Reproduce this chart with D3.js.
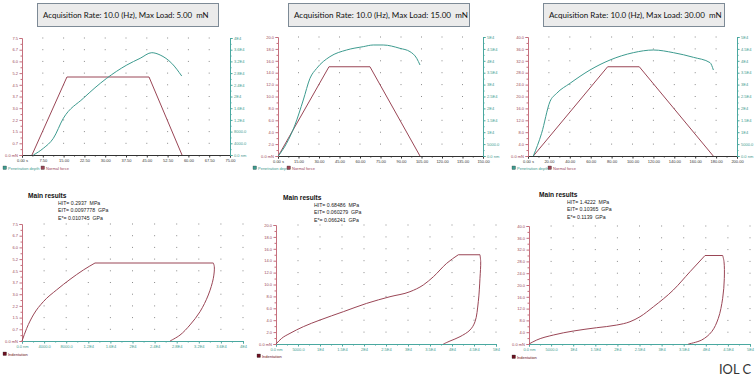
<!DOCTYPE html>
<html>
<head>
<meta charset="utf-8">
<title>IOL C indentation</title>
<style>
  body { margin: 0; background: #fff; }
  svg { display: block; font-family: "Liberation Sans", Arial, sans-serif; }
</style>
</head>
<body>
<svg width="755" height="376"></svg>
<script src="https://d3js.org/d3.v7.min.js"></script>
<script>
// ---- top row: normal force and penetration depth vs time ----
var maxLoads = ["5.00", "15.00", "30.00"];

var forceT1 = [3.6, 16.2, 45.8, 57.7];
var forceF1 = [0, 5.0, 5.0, 0];
var depthT1 = [4.1, 7.7, 11.3, 14.9, 22.1, 30.5, 37.8, 42.6, 46.8, 49.8, 54.0, 57.6];
var depthD1 = [0, 2290, 5700, 12540, 19380, 26200, 30770, 33060, 34980, 34190, 31340, 27000];

var forceT2 = [0.2, 37.3, 67.3, 103.9];
var forceF2 = [0, 15, 15, 0];
var depthT2 = [0.2, 6.3, 12.4, 18.5, 23.4, 28.3, 38, 50.2, 62.4, 69.7, 77, 89.2, 96.6, 101.5, 103.9];
var depthD2 = [0, 5320, 13030, 23530, 32630, 36830, 41740, 44540, 45940, 46640, 46640, 45240, 43840, 41040, 38240];

var forceT3 = [5.1, 76.2, 106.5, 177.3];
var forceF3 = [0, 30, 30, 0];
var depthT3 = [5.1, 13, 21, 27.4, 40.2, 59.3, 78.5, 100.8, 120, 139.1, 158.3, 174.2, 177.4];
var depthD3 = [0, 9520, 22830, 26330, 30530, 36130, 40340, 43420, 44540, 43420, 41460, 39220, 36130];

var timeTicks1 = ["0.00 s", "7.50", "15.00", "22.50", "30.00", "37.50", "45.00", "52.50", "60.00", "67.50", "75.00"];
var timeTicks2 = ["0.00 s", "15.00", "30.00", "45.00", "60.00", "75.00", "90.00", "105.00", "120.00", "135.00", "150.00"];
var timeTicks3 = ["0.00 s", "20.00", "40.00", "60.00", "80.00", "100.00", "120.00", "140.00", "160.00", "180.00", "200.00"];
var forceTicks1 = ["0.0 mN", "0.7", "1.5", "2.2", "3.0", "3.7", "4.5", "5.2", "6.0", "6.7", "7.5"];
var forceTicks2 = ["0.0 mN", "2.0", "4.0", "6.0", "8.0", "10.0", "12.0", "14.0", "16.0", "18.0", "20.0"];
var forceTicks3 = ["0.0 mN", "4.0", "8.0", "12.0", "16.0", "20.0", "24.0", "28.0", "32.0", "36.0", "40.0"];
var depthTicks1 = ["0.0 nm", "4000.0", "8000.0", "1.2E4", "1.6E4", "2E4", "2.4E4", "2.8E4", "3.2E4", "3.6E4", "4E4"];
var depthTicks2 = ["0.0 nm", "5000.0", "1E4", "1.5E4", "2E4", "2.5E4", "3E4", "3.5E4", "4E4", "4.5E4", "5E4"];

var timeMax = [75, 150, 200];
var forceMax = [7.5, 20, 40];
var depthMax = [40000, 50000, 50000];

// ---- bottom row: load vs indentation depth ----
var loadD4 = [0, 850, 2050, 3860, 6280, 8690, 11100, 13210];
var loadF4 = [0, 0.81, 1.67, 2.52, 3.28, 3.95, 4.55, 5.0];
var unloadD4 = [34630, 34810, 34630, 33720, 32220, 30410, 28600, 26790];
var unloadF4 = [5.0, 4.76, 4.02, 2.95, 1.88, 1.03, 0.38, 0];

var loadD5 = [0, 1290, 3180, 6210, 10000, 15300, 20610, 25910, 30450, 33480, 35760, 38790, 41440];
var loadF5 = [0, 0.95, 1.79, 2.91, 4.03, 5.43, 6.83, 7.95, 8.79, 9.92, 11.3, 13.56, 15.0];
var unloadD5 = [46360, 46520, 46360, 45980, 45230, 44090, 41820, 39550, 38030];
var unloadF5 = [15, 13.84, 11.04, 7.11, 3.75, 2.35, 1.23, 0.5, 0];

var loadD6 = [0, 1740, 5500, 10020, 15310, 19840, 22850, 25110, 28130, 32650, 36430, 39820];
var loadF6 = [0, 1.35, 3.04, 4.40, 5.52, 6.42, 7.55, 9.24, 12.6, 18.3, 24.5, 30.0];
var unloadD6 = [43820, 44120, 44190, 43820, 42830, 41330, 39070, 36040];
var unloadF6 = [30, 27.9, 22.2, 15.5, 8.7, 4.17, 1.35, 0];

var resultHIT = ["0.2937", "0.68486", "1.4222"];
var resultEIT = ["0.0097778", "0.060279", "0.10365"];
var resultEstar = ["0.010745", "0.066241", "0.1139"];

// colours
var cForce = "#9a4656", cDepth = "#3d9b8f", cLeftAxis = "#c56f7d", cTeal = "#4aa8a0";

var svg = d3.select("svg");

function zip(a, b) { return a.map(function (v, i) { return [v, b[i]]; }); }
function tenths(max) { return d3.range(11).map(function (i) { return max * i / 10; }); }
function halves(max) { return d3.range(10).map(function (i) { return max * (i + 0.5) / 10; }); }

function styleAxis(g, lineColor, textColor) {
  g.attr("font-size", 4).attr("font-family", "Liberation Sans, Arial, sans-serif");
  g.selectAll("path, line").attr("stroke", lineColor);
  g.selectAll("text").attr("fill", textColor);
}

function drawAxis(g, axisFn, scale, max, labels, pos, lineColor, textColor) {
  var minor = g.append("g").attr("transform", pos)
    .call(axisFn(scale).tickValues(halves(max)).tickSize(1.5).tickFormat(""));
  styleAxis(minor, lineColor, textColor);
  minor.select(".domain").remove();
  var major = g.append("g").attr("transform", pos)
    .call(axisFn(scale).tickValues(tenths(max)).tickSize(2.5).tickPadding(1.5)
      .tickFormat(function (d, i) { return labels[i]; }));
  styleAxis(major, lineColor, textColor);
}

function drawDots(g, x, y, xmax, ymax, skipLast) {
  var xs = tenths(xmax).slice(1, skipLast ? 10 : 11);
  var ys = tenths(ymax).slice(1);
  xs.forEach(function (xv) {
    ys.forEach(function (yv) {
      g.append("rect").attr("x", x(xv) - 0.5).attr("y", y(yv) - 0.5)
        .attr("width", 1).attr("height", 1).attr("fill", "#8a8a8a");
    });
  });
}

function fitText(t, width) {
  var len = t.node().getComputedTextLength();
  var fs = parseFloat(t.attr("font-size"));
  t.attr("font-size", fs * width / len);
}

function legendItem(g, x, y, color, label) {
  g.append("rect").attr("x", x).attr("y", y - 3).attr("width", 3.5).attr("height", 3.5)
    .attr("fill", color).attr("stroke", "#333").attr("stroke-width", 0.3);
  g.append("text").attr("x", x + 5).attr("y", y + 0.5).attr("font-size", 4)
    .attr("fill", color).text(label);
}

// ---- top row ----
var topLayout = [
  { x0: 22, x1: 230, y0: 38, y1: 155, box: [37, 218], tx: 43, tw: 166, leg: [3, 41] },
  { x0: 278, x1: 483, y0: 37, y1: 156, box: [288, 469], tx: 294, tw: 174, leg: [253, 287] },
  { x0: 528, x1: 737, y0: 37, y1: 156, box: [543, 724], tx: 549, tw: 173, leg: [512, 548] }
];
var topForce = [zip(forceT1, forceF1), zip(forceT2, forceF2), zip(forceT3, forceF3)];
var topDepth = [zip(depthT1, depthD1), zip(depthT2, depthD2), zip(depthT3, depthD3)];
var topTime = [timeTicks1, timeTicks2, timeTicks3];
var topForceTicks = [forceTicks1, forceTicks2, forceTicks3];
var topDepthTicks = [depthTicks1, depthTicks2, depthTicks2];

topLayout.forEach(function (L, i) {
  var g = svg.append("g");
  var x = d3.scaleLinear().domain([0, timeMax[i]]).range([L.x0, L.x1]);
  var yF = d3.scaleLinear().domain([0, forceMax[i]]).range([L.y1, L.y0]);
  var yD = d3.scaleLinear().domain([0, depthMax[i]]).range([L.y1, L.y0]);

  // title box
  g.append("rect").attr("x", L.box[0] + 0.5).attr("y", 3.5)
    .attr("width", L.box[1] - L.box[0]).attr("height", 23)
    .attr("fill", "#ebebeb").attr("stroke", "#7d8a96").attr("stroke-width", 1);
  var t = g.append("text").attr("x", L.tx).attr("y", 18).attr("font-size", 9)
    .attr("font-family", "Lato, 'Open Sans', sans-serif").attr("fill", "#111")
    .attr("xml:space", "preserve")
    .text("Acquisition Rate: 10.0 (Hz), Max Load: " + maxLoads[i] + "  mN");
  fitText(t, L.tw);

  drawDots(g, x, yF, timeMax[i], forceMax[i], true);

  drawAxis(g, d3.axisBottom, x, timeMax[i], topTime[i], "translate(0," + L.y1 + ")", "#333", "#333");
  drawAxis(g, d3.axisLeft, yF, forceMax[i], topForceTicks[i], "translate(" + L.x0 + ",0)", cLeftAxis, cForce);
  drawAxis(g, d3.axisRight, yD, depthMax[i], topDepthTicks[i], "translate(" + L.x1 + ",0)", cTeal, cDepth);

  g.append("path").datum(topForce[i])
    .attr("d", d3.line().x(function (d) { return x(d[0]); }).y(function (d) { return yF(d[1]); }))
    .attr("fill", "none").attr("stroke", cForce).attr("stroke-width", 1);
  g.append("path").datum(topDepth[i])
    .attr("d", d3.line().curve(d3.curveMonotoneX)
      .x(function (d) { return x(d[0]); }).y(function (d) { return yD(d[1]); }))
    .attr("fill", "none").attr("stroke", cDepth).attr("stroke-width", 1);

  legendItem(g, L.leg[0], 169, cDepth, "Penetration depth");
  legendItem(g, L.leg[1], 169, cForce, "Normal force");
});

// ---- bottom row ----
var botLayout = [
  { x0: 22, x1: 243, y0: 224, y1: 341, mr: [28, 198], res: [58, 205], leg: [3, 355] },
  { x0: 276, x1: 496, y0: 225, y1: 344, mr: [283, 200], res: [314, 207], leg: [257, 357] },
  { x0: 529, x1: 750, y0: 226, y1: 344, mr: [539, 197], res: [567, 204], leg: [512, 358] }
];
var botLoad = [zip(loadD4, loadF4), zip(loadD5, loadF5), zip(loadD6, loadF6)];
var botUnload = [zip(unloadD4, unloadF4), zip(unloadD5, unloadF5), zip(unloadD6, unloadF6)];

botLayout.forEach(function (L, i) {
  var g = svg.append("g");
  var x = d3.scaleLinear().domain([0, depthMax[i]]).range([L.x0, L.x1]);
  var y = d3.scaleLinear().domain([0, forceMax[i]]).range([L.y1, L.y0]);

  g.append("text").attr("x", L.mr[0]).attr("y", L.mr[1]).attr("font-size", 6.6)
    .attr("font-weight", "bold").attr("fill", "#111").text("Main results");
  var lines = ["HIT= " + resultHIT[i] + "  MPa", "EIT= " + resultEIT[i] + "  GPa", "E*= " + resultEstar[i] + "  GPa"];
  lines.forEach(function (s, k) {
    g.append("text").attr("x", L.res[0]).attr("y", L.res[1] + k * 7.3).attr("font-size", 5.2)
      .attr("fill", "#222").attr("xml:space", "preserve").text(s);
  });

  drawDots(g, x, y, depthMax[i], forceMax[i], false);

  drawAxis(g, d3.axisBottom, x, depthMax[i], topDepthTicks[i], "translate(0," + L.y1 + ")", cTeal, cDepth);
  drawAxis(g, d3.axisLeft, y, forceMax[i], topForceTicks[i], "translate(" + L.x0 + ",0)", cLeftAxis, cForce);

  var px = function (d) { return x(d[0]); }, py = function (d) { return y(d[1]); };
  var load = botLoad[i], unload = botUnload[i];
  g.append("path").datum(load)
    .attr("d", d3.line().curve(d3.curveMonotoneX).x(px).y(py))
    .attr("fill", "none").attr("stroke", cForce).attr("stroke-width", 1);
  g.append("path").datum([load[load.length - 1], unload[0]])
    .attr("d", d3.line().x(px).y(py))
    .attr("fill", "none").attr("stroke", cForce).attr("stroke-width", 1);
  g.append("path").datum(unload)
    .attr("d", d3.line().curve(d3.curveCatmullRom.alpha(0.5)).x(px).y(py))
    .attr("fill", "none").attr("stroke", cForce).attr("stroke-width", 1);

  legendItem(g, L.leg[0], L.leg[1], "#6b1020", "Indentation");
});

var iol = svg.append("text").attr("x", 719).attr("y", 374).attr("font-size", 13)
  .attr("font-family", "Lato, 'Open Sans', sans-serif").attr("fill", "#333").text("IOL C");
fitText(iol, 32);
</script>
</body>
</html>
